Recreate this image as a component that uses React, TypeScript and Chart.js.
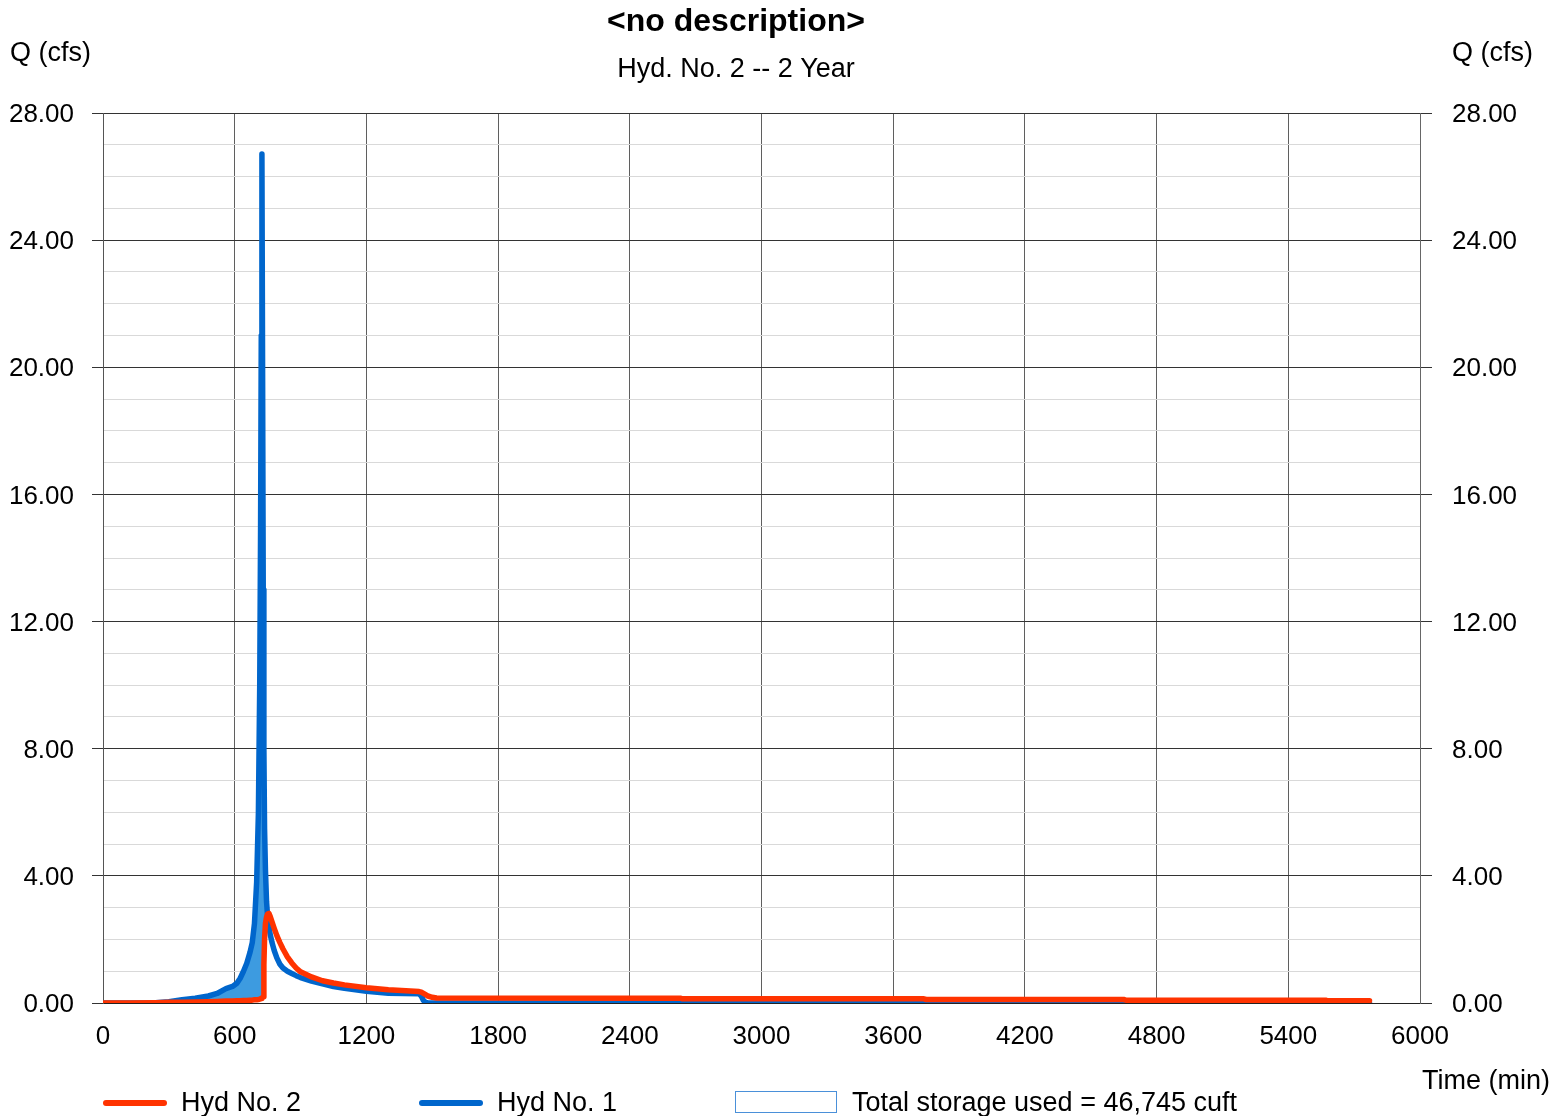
import React, { useEffect, useRef } from "react";
import { Chart, registerables } from "chart.js";

Chart.register(...registerables);

// Time in minutes, shared by both hydrographs
const timeMin = [
  0, 120, 240, 300, 360, 420, 480, 520, 560, 590, 610, 625, 640, 655, 670, 680, 690, 700,
  708, 714, 718, 721, 724, 727, 730, 733, 736, 740, 745, 750, 756, 762, 770, 780, 792, 806,
  820, 840, 860, 880, 900, 950, 1000, 1050, 1100, 1200, 1300, 1440, 1450, 1460, 1470, 1480,
  1500, 1520, 2630, 2640, 3740, 3750, 4650, 4660, 5570, 5580, 5770,
];

// Hyd No. 1 — inflow (cfs)
const hydNo1 = [
  0, 0, 0.01, 0.04, 0.1, 0.15, 0.22, 0.3, 0.45, 0.52, 0.62, 0.78, 1.0, 1.25, 1.6, 1.9, 2.5, 3.8,
  6.0, 10, 15, 21, 26.71, 20, 13, 8, 5.5, 4.2, 3.2, 2.7, 2.4, 2.15, 1.9, 1.65, 1.42, 1.22,
  1.1, 1.0, 0.93, 0.86, 0.8, 0.69, 0.6, 0.52, 0.46, 0.37, 0.31, 0.29, 0.22, 0.08, 0.02, 0,
  0, 0, 0, 0, 0, 0, 0, 0, 0, 0, 0,
];

// Hyd No. 2 — routed outflow (cfs)
const hydNo2 = [
  0, 0, 0.01, 0.02, 0.02, 0.03, 0.04, 0.05, 0.06, 0.06, 0.07, 0.07, 0.08, 0.08, 0.09, 0.09, 0.1, 0.1,
  0.11, 0.12, 0.13, 0.14, 0.15, 0.17, 0.2, 1.2, 2.0, 2.5, 2.7, 2.8, 2.82, 2.72, 2.55, 2.35, 2.12, 1.9,
  1.7, 1.45, 1.26, 1.1, 0.98, 0.82, 0.7, 0.63, 0.57, 0.48, 0.42, 0.36, 0.34, 0.3, 0.26, 0.22,
  0.18, 0.16, 0.15, 0.13, 0.13, 0.11, 0.11, 0.09, 0.09, 0.07, 0.07,
];

const xTicks = [0, 600, 1200, 1800, 2400, 3000, 3600, 4200, 4800, 5400, 6000];
const yMajorTicks = [0, 4, 8, 12, 16, 20, 24, 28];

const titleText = "<no description>";
const subtitleText = "Hyd. No. 2 -- 2 Year";
const yAxisTitle = "Q (cfs)";
const xAxisTitle = "Time (min)";
const seriesLabels = ["Hyd No. 2", "Hyd No. 1"];
const storageLabel = "Total storage used = 46,745 cuft";

const RED = "#ff3300";
const BLUE = "#0066cc";
const FILL_BLUE = "#3d9be0";
const FONT = '"Liberation Sans", Arial, sans-serif';

const isMajor = (v: number) => yMajorTicks.includes(v);

const textPlugin = {
  id: "hydText",
  afterDraw(chart: any) {
    const ctx = chart.ctx as CanvasRenderingContext2D;
    ctx.save();
    ctx.fillStyle = "#000";
    ctx.textBaseline = "middle";

    ctx.font = `bold 32px ${FONT}`;
    ctx.textAlign = "center";
    ctx.fillText(titleText, 736, 22);
    ctx.font = `27px ${FONT}`;
    ctx.fillText(subtitleText, 736, 70);

    ctx.textAlign = "left";
    ctx.fillText(yAxisTitle, 10, 54);
    ctx.fillText(yAxisTitle, 1452, 54);
    ctx.fillText(xAxisTitle, 1422, 1082);

    // legend row
    const legendY = 1103;
    const itemStep = 316;
    const startX = 103;
    chart.data.datasets.forEach((ds: any, i: number) => {
      const x0 = startX + i * itemStep;
      ctx.strokeStyle = ds.borderColor;
      ctx.lineWidth = 6;
      ctx.lineCap = "round";
      ctx.beginPath();
      ctx.moveTo(x0 + 3, legendY);
      ctx.lineTo(x0 + 61, legendY);
      ctx.stroke();
      ctx.fillStyle = "#000";
      ctx.fillText(ds.label, x0 + 78, legendY + 1);
    });
    const bx = startX + 2 * itemStep;
    ctx.fillStyle = "#fff";
    ctx.fillRect(bx + 0.5, legendY - 11.5, 101, 21);
    ctx.strokeStyle = "#4a90d9";
    ctx.lineWidth = 1;
    ctx.strokeRect(bx + 0.5, legendY - 11.5, 101, 21);
    ctx.fillStyle = "#000";
    ctx.fillText(storageLabel, bx + 117, legendY + 1);
    ctx.restore();
  },
};

export default function App() {
  const canvasRef = useRef<HTMLCanvasElement | null>(null);

  useEffect(() => {
    if (!canvasRef.current) return;
    const tickFont = { family: FONT, size: 26 };
    const chart = new Chart(canvasRef.current, {
      type: "line",
      data: {
        datasets: [
          {
            label: seriesLabels[0],
            data: timeMin.map((t, i) => ({ x: t, y: hydNo2[i] })),
            borderColor: RED,
            borderWidth: 5.5,
            borderCapStyle: "round",
            borderJoinStyle: "round",
            pointRadius: 0,
            tension: 0,
            fill: false,
            yAxisID: "y",
          },
          {
            label: seriesLabels[1],
            data: timeMin.map((t, i) => ({ x: t, y: hydNo1[i] })),
            borderColor: BLUE,
            borderWidth: 5.5,
            borderCapStyle: "round",
            borderJoinStyle: "round",
            pointRadius: 0,
            tension: 0,
            fill: { target: 0, above: FILL_BLUE, below: "rgba(0,0,0,0)" },
            yAxisID: "y",
          },
        ],
      },
      options: {
        responsive: false,
        animation: false,
        devicePixelRatio: 1,
        layout: { padding: { top: 113, left: 0, right: 0, bottom: 0 } },
        plugins: {
          legend: { display: false },
          title: { display: false },
          tooltip: { enabled: false },
        },
        scales: {
          x: {
            type: "linear",
            min: 0,
            max: 6000,
            afterFit: (s: any) => {
              s.height = 113;
            },
            afterBuildTicks: (s: any) => {
              s.ticks = xTicks.map((v) => ({ value: v }));
            },
            ticks: {
              color: "#000",
              font: tickFont,
              padding: 18,
              maxRotation: 0,
              autoSkip: false,
              callback: (v: any) => String(v),
            },
            grid: { color: "#5f5f5f", lineWidth: 1, drawTicks: false },
            border: { color: "#222", width: 1 },
          },
          y: {
            type: "linear",
            position: "left",
            min: 0,
            max: 28,
            afterFit: (s: any) => {
              s.width = 103;
            },
            ticks: {
              stepSize: 1,
              autoSkip: false,
              color: "#000",
              font: tickFont,
              padding: 18,
              labelOffset: 2,
              callback: (v: any) => (isMajor(Number(v)) ? Number(v).toFixed(2) : ""),
            },
            grid: {
              color: (c: any) => (isMajor(c.tick.value) ? "#333" : "#d9d9d9"),
              tickColor: (c: any) => (isMajor(c.tick.value) ? "#333" : "rgba(0,0,0,0)"),
              tickLength: 11,
              lineWidth: 1,
            },
            border: { color: "#555", width: 1 },
          },
          y2: {
            type: "linear",
            position: "right",
            min: 0,
            max: 28,
            afterFit: (s: any) => {
              s.width = 133;
            },
            ticks: {
              stepSize: 1,
              autoSkip: false,
              color: "#000",
              font: tickFont,
              padding: 20,
              labelOffset: 2,
              callback: (v: any) => (isMajor(Number(v)) ? Number(v).toFixed(2) : ""),
            },
            grid: {
              drawOnChartArea: false,
              tickColor: (c: any) => (isMajor(c.tick.value) ? "#333" : "rgba(0,0,0,0)"),
              tickLength: 12,
              lineWidth: 1,
            },
            border: { color: "#666", width: 1 },
          },
        },
      },
      plugins: [textPlugin],
    });
    return () => chart.destroy();
  }, []);

  return (
    <div style={{ position: "fixed", left: 0, top: 0, width: 1553, height: 1116, background: "#fff" }}>
      <canvas ref={canvasRef} width={1553} height={1116} style={{ display: "block" }} />
    </div>
  );
}
